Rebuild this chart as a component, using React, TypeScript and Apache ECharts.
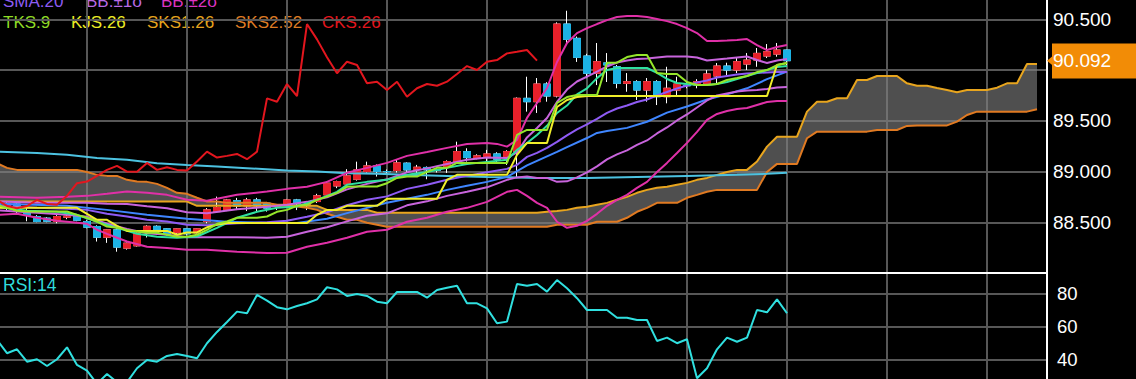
import React, { useEffect, useRef } from "react";
import * as echarts from "echarts";

const FONT = '"Liberation Sans", Arial, Helvetica, sans-serif';
const GRID = "#575757";

// category slots: 81 candles (0..80) + 26 future slots for the cloud
const categories: string[] = Array.from({ length: 107 }, (_, i) => String(i));

const opens = [
  88.72, 88.70, 88.66, 88.68, 88.61, 88.556, 88.54, 88.507, 88.55, 88.556,
  88.507, 88.458, 88.353, 88.425, 88.245, 88.268, 88.41, 88.46, 88.435, 88.396,
  88.435, 88.396, 88.507, 88.605, 88.622, 88.713, 88.661, 88.72, 88.688, 88.655,
  88.671, 88.72, 88.67, 88.704, 88.77, 88.858, 88.878, 88.924, 89.0, 89.055,
  89.0, 89.01, 89.082, 89.023, 89.04, 89.02, 89.042, 89.098, 89.196, 89.134,
  89.14, 89.173, 89.14, 89.196, 89.721, 89.688, 89.862, 89.744, 90.453, 90.312,
  90.138, 89.968, 90.07, 90.032, 89.869, 89.885, 89.803, 89.885, 89.737, 89.803,
  89.85, 89.852, 89.869, 89.941, 90.039, 90.0, 90.059, 90.098, 90.138, 90.157,
  90.197,
];
const closes = [
  88.70, 88.66, 88.68, 88.62, 88.57, 88.507, 88.51, 88.556, 88.56, 88.52,
  88.452, 88.353, 88.425, 88.255, 88.294, 88.393, 88.46, 88.43, 88.386, 88.435,
  88.386, 88.435, 88.622, 88.645, 88.72, 88.661, 88.72, 88.661, 88.639, 88.66,
  88.72, 88.681, 88.672, 88.76, 88.885, 88.901, 88.957, 89.016, 89.055, 89.0,
  88.998, 89.085, 89.016, 89.042, 89.016, 89.01, 89.098, 89.196, 89.137, 89.154,
  89.173, 89.121, 89.196, 89.721, 89.688, 89.862, 89.744, 90.453, 90.302, 90.125,
  89.968, 90.082, 90.05, 89.869, 89.885, 89.803, 89.885, 89.737, 89.82, 89.862,
  89.845, 89.885, 89.961, 90.039, 90.0, 90.082, 90.098, 90.164, 90.18, 90.197,
  90.092,
];
const highs = [
  88.74, 88.72, 88.71, 88.70, 88.64, 88.57, 88.55, 88.57, 88.58, 88.57,
  88.52, 88.47, 88.43, 88.44, 88.30, 88.40, 88.47, 88.47, 88.44, 88.44,
  88.44, 88.44, 88.64, 88.753, 88.73, 88.74, 88.74, 88.74, 88.70, 88.68,
  88.73, 88.73, 88.68, 88.78, 88.901, 88.91, 89.023, 89.097, 89.097, 89.07,
  89.02, 89.12, 89.09, 89.065, 89.05, 89.04, 89.11, 89.294, 89.229, 89.17,
  89.213, 89.19, 89.21, 89.73, 89.934, 89.921, 89.88, 90.47, 90.584, 90.33,
  90.16, 90.266, 90.167, 90.05, 89.97, 89.90, 89.921, 89.90, 90.032, 89.934,
  89.88, 89.91, 90.0, 90.069, 90.072, 90.118, 90.167, 90.217, 90.256, 90.266,
  90.20,
];
const lows = [
  88.68, 88.63, 88.62, 88.59, 88.51, 88.50, 88.50, 88.49, 88.53, 88.51,
  88.44, 88.31, 88.297, 88.21, 88.23, 88.26, 88.35, 88.42, 88.37, 88.35,
  88.37, 88.39, 88.49, 88.60, 88.61, 88.62, 88.61, 88.61, 88.605, 88.62,
  88.66, 88.62, 88.62, 88.69, 88.76, 88.836, 88.87, 88.91, 88.99, 88.95,
  88.98, 88.99, 88.99, 88.95, 88.924, 88.99, 88.986, 89.09, 89.098, 89.12,
  89.098, 89.088, 89.065, 88.934, 89.59, 89.577, 89.688, 89.73, 90.263, 90.08,
  89.92, 89.852, 89.882, 89.82, 89.786, 89.705, 89.688, 89.655, 89.672, 89.754,
  89.82, 89.82, 89.852, 89.872, 89.951, 89.97, 90.0, 90.032, 90.118, 90.131,
  90.049,
];

// [slot, value] readings
const sma20 = [[0,88.664],[1,88.662],[5,88.642],[8,88.632],[10,88.622],[12,88.583],[14,88.557],[16,88.524],[18,88.507],[20,88.475],[22,88.470],[25,88.490],[28,88.500],[30,88.514],[32,88.554],[34,88.598],[36,88.667],[38,88.721],[40,88.755],[42,88.829],[44,88.869],[46,88.918],[48,88.957],[50,88.992],[52,89.026],[53,89.065],[54,89.144],[55,89.183],[56,89.233],[57,89.292],[58,89.356],[59,89.415],[60,89.464],[61,89.518],[62,89.577],[63,89.621],[64,89.651],[65,89.685],[66,89.710],[67,89.749],[68,89.784],[69,89.818],[70,89.848],[71,89.877],[72,89.897],[73,89.926],[74,89.941],[75,89.956],[76,89.966],[77,89.971],[78,89.976],[79,89.980],[80,89.980]];
const bb1Upper = [[0,88.708],[1,88.706],[5,88.692],[8,88.692],[10,88.692],[12,88.682],[14,88.680],[16,88.657],[18,88.638],[20,88.598],[22,88.588],[25,88.628],[28,88.652],[30,88.672],[32,88.701],[34,88.746],[36,88.824],[38,88.878],[40,88.923],[42,88.992],[44,89.031],[46,89.075],[48,89.115],[50,89.139],[52,89.134],[53,89.188],[54,89.336],[55,89.429],[56,89.528],[57,89.685],[58,89.808],[59,89.887],[60,89.936],[61,89.985],[62,90.035],[63,90.074],[64,90.094],[65,90.108],[66,90.113],[67,90.123],[68,90.133],[69,90.133],[70,90.133],[71,90.123],[72,90.094],[73,90.104],[74,90.113],[75,90.123],[76,90.133],[77,90.099],[78,90.069],[79,90.094],[80,90.108]];
const bb1Lower = [[0,88.62],[1,88.618],[5,88.593],[8,88.573],[10,88.554],[12,88.485],[14,88.434],[16,88.391],[18,88.377],[20,88.352],[22,88.352],[25,88.352],[28,88.348],[30,88.357],[32,88.406],[34,88.450],[36,88.509],[38,88.564],[40,88.588],[42,88.667],[44,88.706],[46,88.760],[48,88.800],[50,88.844],[52,88.918],[53,88.942],[54,88.952],[55,88.937],[56,88.937],[57,88.898],[58,88.903],[59,88.942],[60,88.992],[61,89.051],[62,89.120],[63,89.169],[64,89.208],[65,89.262],[66,89.306],[67,89.375],[68,89.434],[69,89.503],[70,89.562],[71,89.631],[72,89.700],[73,89.749],[74,89.769],[75,89.789],[76,89.798],[77,89.803],[78,89.813],[79,89.828],[80,89.833]];
const bb2Upper = [[0,88.75],[1,88.751],[5,88.741],[8,88.751],[10,88.760],[12,88.780],[14,88.803],[16,88.790],[18,88.770],[20,88.721],[22,88.711],[25,88.770],[28,88.803],[30,88.829],[32,88.849],[34,88.898],[36,88.987],[38,89.036],[40,89.085],[42,89.154],[44,89.193],[46,89.233],[48,89.272],[50,89.282],[51,89.272],[52,89.245],[53,89.311],[54,89.528],[55,89.675],[56,89.823],[57,90.079],[58,90.266],[59,90.364],[60,90.413],[61,90.453],[62,90.492],[63,90.522],[64,90.532],[65,90.532],[66,90.522],[67,90.502],[68,90.482],[69,90.453],[70,90.413],[71,90.364],[72,90.286],[73,90.286],[74,90.290],[75,90.295],[76,90.305],[77,90.246],[78,90.197],[79,90.227],[80,90.246]];
const bb2Lower = [[0,88.575],[1,88.573],[3,88.583],[5,88.544],[7,88.514],[10,88.485],[11,88.426],[12,88.386],[13,88.347],[14,88.311],[16,88.259],[18,88.246],[20,88.229],[22,88.229],[25,88.209],[28,88.197],[30,88.200],[32,88.259],[34,88.298],[36,88.347],[38,88.406],[40,88.426],[42,88.505],[44,88.544],[46,88.603],[48,88.642],[50,88.701],[51,88.751],[52,88.800],[53,88.819],[54,88.760],[55,88.691],[56,88.642],[57,88.505],[58,88.445],[59,88.465],[60,88.514],[61,88.583],[62,88.662],[63,88.721],[64,88.770],[65,88.839],[66,88.898],[67,88.996],[68,89.085],[69,89.183],[70,89.282],[71,89.390],[72,89.508],[73,89.567],[74,89.597],[75,89.616],[76,89.626],[77,89.656],[78,89.685],[79,89.695],[80,89.695]];
const tealAvg = [[0,88.66],[1,88.652],[4,88.613],[7,88.603],[9,88.573],[11,88.505],[13,88.445],[15,88.386],[17,88.357],[19,88.347],[21,88.360],[23,88.445],[25,88.544],[27,88.603],[29,88.642],[31,88.655],[33,88.721],[35,88.800],[36,88.869],[38,88.898],[40,88.918],[42,88.967],[44,88.996],[46,89.036],[48,89.075],[50,89.095],[52,89.115],[53,89.213],[54,89.28],[55,89.36],[56,89.45],[57,89.577],[58,89.65],[59,89.76],[60,89.82],[61,89.92],[62,90.0],[63,90.020],[64,90.020],[65,90.020],[66,90.020],[67,89.971],[68,89.912],[69,89.872],[70,89.862],[71,89.853],[72,89.853],[73,89.862],[74,89.882],[75,89.912],[76,89.941],[77,89.971],[78,90.0],[79,90.030],[80,90.039]];
const blueAvg = [[0,88.685],[1,88.682],[8,88.662],[12,88.622],[16,88.573],[20,88.534],[24,88.505],[28,88.495],[31,88.492],[34,88.534],[36,88.590],[38,88.642],[40,88.692],[42,88.731],[44,88.770],[46,88.819],[48,88.859],[50,88.898],[52,88.947],[54,89.06],[57,89.193],[58,89.24],[60,89.33],[61,89.38],[62,89.40],[64,89.43],[66,89.49],[68,89.58],[70,89.64],[72,89.71],[74,89.76],[76,89.82],[78,89.91],[80,89.984]];
const cyanAvg = [[0,89.197],[1,89.196],[5,89.183],[8,89.164],[11,89.134],[14,89.115],[17,89.082],[20,89.065],[23,89.049],[26,89.033],[30,89.009],[33,88.999],[36,88.984],[39,88.977],[42,88.967],[46,88.957],[50,88.947],[55,88.937],[60,88.937],[65,88.947],[70,88.957],[75,88.967],[78,88.977],[80,88.987]];

const tenkan = [
  88.68, 88.672, 88.642, 88.613, 88.606, 88.606, 88.606, 88.606, 88.606, 88.573,
  88.544, 88.507, 88.458, 88.445, 88.425, 88.409, 88.396, 88.396, 88.377, 88.357,
  88.357, 88.377, 88.425, 88.485, 88.507, 88.544, 88.544, 88.544, 88.557, 88.603,
  88.622, 88.662, 88.672, 88.721, 88.753, 88.790, 88.849, 88.852, 88.852, 88.852,
  88.885, 88.937, 88.950, 88.950, 88.996, 89.036, 89.036, 89.085, 89.085, 89.085,
  89.085, 89.085, 89.085, 89.36, 89.410, 89.410, 89.410, 89.675, 89.734, 89.754,
  89.754, 89.754, 90.072, 90.072, 90.128, 90.148, 90.148, 89.971, 89.961, 89.961,
  89.882, 89.853, 89.853, 89.862, 89.902, 89.921, 89.941, 89.980, 90.0, 90.049,
  90.069,
];
const kijun = [
  88.642, 88.642, 88.642, 88.642, 88.642, 88.642, 88.642, 88.642, 88.642, 88.642,
  88.583, 88.524, 88.524, 88.465, 88.415, 88.415, 88.415, 88.415, 88.415, 88.377,
  88.40, 88.40, 88.45, 88.475, 88.492, 88.492, 88.492, 88.492, 88.492, 88.492,
  88.492, 88.492, 88.492, 88.573, 88.622, 88.622, 88.662, 88.662, 88.662, 88.662,
  88.731, 88.731, 88.731, 88.731, 88.731, 88.731, 88.918, 88.967, 88.967, 88.967,
  88.967, 88.967, 88.967, 89.164, 89.282, 89.282, 89.282, 89.636, 89.705, 89.734,
  89.744, 89.744, 89.744, 89.744, 89.744, 89.744, 89.744, 89.744, 89.744, 89.744,
  89.744, 89.744, 89.744, 89.744, 89.744, 89.744, 89.744, 89.744, 89.744, 90.049,
  90.069,
];
const senkou1 = [
  88.704, 88.704, 88.704, 88.704, 88.704, 88.704, 88.704, 88.704, 88.704, 88.704,
  88.704, 88.704, 88.704, 88.704, 88.704, 88.704, 88.704, 88.704, 88.704, 88.704,
  88.704, 88.662, 88.662, 88.662, 88.662, 88.662, 88.662, 88.662, 88.662, 88.662,
  88.662, 88.662, 88.662, 88.662, 88.622, 88.622, 88.622, 88.622, 88.622, 88.593,
  88.593, 88.593, 88.593, 88.593, 88.593, 88.593, 88.593, 88.593, 88.593, 88.593,
  88.593, 88.593, 88.593, 88.593, 88.593, 88.593, 88.603, 88.612, 88.622, 88.642,
  88.652, 88.672, 88.691, 88.721, 88.750, 88.790, 88.819, 88.839, 88.849, 88.869,
  88.888, 88.918, 88.937, 88.967, 88.996, 89.016, 89.016, 89.098, 89.245, 89.343,
  89.343, 89.343, 89.590, 89.688, 89.688, 89.722, 89.722, 89.902, 89.902, 89.941,
  89.941, 89.941, 89.869, 89.846, 89.846, 89.823, 89.803, 89.781, 89.803, 89.803,
  89.803, 89.826, 89.869, 89.869, 90.059, 90.059,
];
const senkou2 = [
  89.115, 89.082, 89.036, 89.016, 89.016, 89.016, 89.016, 89.016, 89.016, 89.016,
  88.996, 88.967, 88.957, 88.957, 88.918, 88.901, 88.898, 88.878, 88.839, 88.790,
  88.780, 88.741, 88.704, 88.704, 88.691, 88.691, 88.691, 88.691, 88.691, 88.672,
  88.672, 88.655, 88.642, 88.622, 88.583, 88.554, 88.524, 88.524, 88.495, 88.475,
  88.455, 88.455, 88.455, 88.455, 88.455, 88.455, 88.455, 88.455, 88.455, 88.455,
  88.455, 88.455, 88.455, 88.455, 88.455, 88.455, 88.455, 88.475, 88.475, 88.475,
  88.475, 88.505, 88.505, 88.505, 88.544, 88.603, 88.642, 88.691, 88.691, 88.691,
  88.741, 88.770, 88.800, 88.819, 88.819, 88.819, 88.819, 88.819, 88.996, 89.075,
  89.075, 89.075, 89.328, 89.393, 89.393, 89.393, 89.393, 89.393, 89.393, 89.409,
  89.409, 89.409, 89.449, 89.454, 89.454, 89.454, 89.454, 89.491, 89.557, 89.590,
  89.590, 89.590, 89.590, 89.590, 89.590, 89.613,
];
const rsi14 = [
  50, 51.8, 43.7, 46.1, 38.5, 40.0, 35.9, 40.0, 47.3, 36.5,
  33.0, 25, 31.0, 26, 26, 34.5, 39.6, 38.5, 42.0, 43.2,
  42.0, 40.6, 49.8, 56.7, 62.8, 69.1, 68.1, 79.3, 75.8, 71.8,
  70.5, 72.5, 74.2, 76.6, 84.0, 82.7, 78.7, 79.9, 78.7, 75.2,
  74.2, 81.1, 81.1, 81.1, 77.6, 82.3, 83.7, 84.9, 74.2, 74.2,
  71.1, 62.0, 63.0, 86.0, 84.9, 86.0, 81.3, 88.4, 83.4, 77.3,
  70.1, 70.1, 70.1, 65.4, 65.4, 64.0, 64.0, 51.2, 53.2, 49.8,
  52.2, 28.4, 34.5, 46.1, 53.2, 50.7, 53.2, 70.1, 68.7, 76.6,
  68.1,
];
const chikouShift = 25;

const priceTicks = { min: 88.0, max: 90.69, interval: 0.5 };
const rsiTicks = { min: 20, max: 92.7, interval: 20 };

const legendRow1 = [
  { text: "SMA:20", x: 3, color: "#8d5cf2" },
  { text: "BB:±1σ", x: 86, color: "#b86ae6" },
  { text: "BB:±2σ", x: 161, color: "#dc34c2" },
];
const legendRow2 = [
  { text: "TKS:9", x: 3, color: "#8fdc26" },
  { text: "KJS:26", x: 71, color: "#ecec26" },
  { text: "SKS1:26", x: 147, color: "#e6a41e" },
  { text: "SKS2:52", x: 235, color: "#de7b24" },
  { text: "CKS:26", x: 322, color: "#e3161e" },
];

const PRICE_TAG = "#f28c06";

function buildOption() {
  const wicks = opens.map((o, i) => [o, closes[i], lows[i], highs[i]]);
  const bodies = opens.map((o, i) => [o, closes[i], Math.min(o, closes[i]), Math.max(o, closes[i])]);
  const cloudBase = senkou1.map((v, i) => Math.min(v, senkou2[i]));
  const cloudSpan = senkou1.map((v, i) => Math.abs(v - senkou2[i]));
  const chikou = closes.slice(chikouShift).map((v, i) => [i, v]);
  const lastClose = closes[closes.length - 1];

  const line = (name: string, data: any[], color: string, extra: any = {}) => ({
    type: "line",
    name,
    data,
    xAxisIndex: 0,
    yAxisIndex: 0,
    symbol: "none",
    showSymbol: false,
    silent: true,
    lineStyle: { color, width: 2 },
    itemStyle: { color },
    z: 3,
    ...extra,
  });

  const texts: any[] = [];
  legendRow1.forEach((l) =>
    texts.push({ type: "text", x: l.x, y: 1, silent: true, style: { text: l.text, fill: l.color, font: `17px ${FONT}`, verticalAlign: "middle" } })
  );
  legendRow2.forEach((l) =>
    texts.push({ type: "text", x: l.x, y: 22, silent: true, style: { text: l.text, fill: l.color, font: `17px ${FONT}`, verticalAlign: "middle" } })
  );
  texts.push({ type: "text", x: 3, y: 285, silent: true, style: { text: "RSI:14", fill: "#30dcdc", font: `17.5px ${FONT}`, verticalAlign: "middle" } });

  const xAxisBase = {
    type: "category",
    data: categories,
    boundaryGap: false,
    axisTick: { show: false },
    axisLabel: { show: false },
    splitLine: { show: true, interval: 9, lineStyle: { color: GRID, width: 2 } },
  };

  return {
    animation: false,
    backgroundColor: "#000",
    graphic: texts,
    grid: [
      { left: -13, right: 89, top: 0, height: 273, outerBoundsMode: "none" },
      { left: -13, right: 89, top: 273, bottom: -13, outerBoundsMode: "none" },
    ],
    xAxis: [
      { ...xAxisBase, gridIndex: 0, axisLine: { show: true, onZero: false, lineStyle: { color: "#fff", width: 2 } } },
      { ...xAxisBase, gridIndex: 1, axisLine: { show: false } },
    ],
    yAxis: [
      {
        type: "value",
        gridIndex: 0,
        position: "right",
        min: priceTicks.min,
        max: priceTicks.max,
        interval: priceTicks.interval,
        axisLine: { show: true, lineStyle: { color: "#fff", width: 2 } },
        axisTick: { show: false },
        axisLabel: { color: "#fff", fontSize: 19, fontFamily: FONT, margin: 6, showMinLabel: false, showMaxLabel: false, formatter: (v: number) => v.toFixed(3) },
        splitLine: { show: true, showMinLine: false, showMaxLine: false, lineStyle: { color: GRID, width: 2 } },
      },
      {
        type: "value",
        gridIndex: 1,
        position: "right",
        min: rsiTicks.min,
        max: rsiTicks.max,
        interval: rsiTicks.interval,
        axisLine: { show: true, lineStyle: { color: "#fff", width: 2 } },
        axisTick: { show: false },
        axisLabel: { color: "#fff", fontSize: 18.5, fontFamily: FONT, margin: 10, showMinLabel: false, showMaxLabel: false },
        splitLine: { show: true, showMinLine: false, showMaxLine: false, lineStyle: { color: GRID, width: 2 } },
      },
    ],
    series: [
      {
        type: "candlestick",
        name: "wick",
        data: wicks,
        barWidth: 8,
        silent: true,
        itemStyle: { color: "#fff", color0: "#fff", borderColor: "#fff", borderColor0: "#fff", borderWidth: 1 },
        z: 2,
      },
      {
        type: "candlestick",
        name: "body",
        data: bodies,
        barWidth: 8,
        silent: true,
        itemStyle: { color: "#e8202a", color0: "#1cb2e4", borderColor: "#e8202a", borderColor0: "#1cb2e4", borderWidth: 1 },
        z: 2,
      },
      line("cloudBase", cloudBase, "transparent", { stack: "cloud", lineStyle: { width: 0, opacity: 0 }, z: 2 }),
      line("cloud", cloudSpan, "transparent", {
        stack: "cloud",
        lineStyle: { width: 0, opacity: 0 },
        areaStyle: { color: "rgba(128,128,128,0.62)", opacity: 1 },
        z: 2,
      }),
      line("SKS2:52", senkou2, "#e07a22"),
      line("SKS1:26", senkou1, "#e8a51e"),
      line("cyanAvg", cyanAvg, "#4cc2e0"),
      line("blueAvg", blueAvg, "#3f86ff"),
      line("BB+2", bb2Upper, "#e030a8"),
      line("BB-2", bb2Lower, "#e030a8"),
      line("BB+1", bb1Upper, "#c864dc"),
      line("BB-1", bb1Lower, "#c864dc"),
      line("SMA:20", sma20, "#8f5bf5"),
      line("tealAvg", tealAvg, "#2fe0a0"),
      line("KJS:26", kijun, "#f0ee2a"),
      line("TKS:9", tenkan, "#95e62a"),
      line("CKS:26", chikou, "#e3161e"),
      {
        type: "line",
        name: "RSI:14",
        data: rsi14,
        xAxisIndex: 1,
        yAxisIndex: 1,
        symbol: "none",
        showSymbol: false,
        silent: true,
        lineStyle: { color: "#30e0e0", width: 2 },
        itemStyle: { color: "#30e0e0" },
      },
      {
        type: "line",
        name: "last",
        data: [],
        xAxisIndex: 0,
        yAxisIndex: 0,
        silent: true,
        z: 10,
        markPoint: {
          silent: true,
          symbol: "path://M0,5 L8,0 L8,10 Z",
          symbolSize: [6, 10],
          symbolOffset: [3, 0],
          itemStyle: { color: PRICE_TAG },
          label: { show: false },
          data: [{ coord: [categories.length - 1, lastClose] }],
        },
        markLine: {
          silent: true,
          symbol: ["none", "none"],
          animation: false,
          data: [{ yAxis: lastClose }],
          lineStyle: { color: "rgba(0,0,0,0)", width: 1, type: "solid" },
          label: {
            show: true,
            opacity: 1,
            position: "end",
            distance: 5,
            formatter: () => lastClose.toFixed(3),
            color: "#ffffff",
            fontSize: 19,
            fontFamily: FONT,
            backgroundColor: PRICE_TAG,
            padding: [10, 26, 6, 1],
          },
        },
      },
    ],
  };
}

export default function App() {
  const ref = useRef<HTMLDivElement>(null);
  useEffect(() => {
    document.body.style.margin = "0";
    document.body.style.background = "#000";
    const chart = echarts.init(ref.current as HTMLDivElement, null, { renderer: "svg" });
    chart.setOption(buildOption() as any);
    return () => chart.dispose();
  }, []);
  return <div ref={ref} style={{ width: 1136, height: 379, background: "#000" }} />;
}
